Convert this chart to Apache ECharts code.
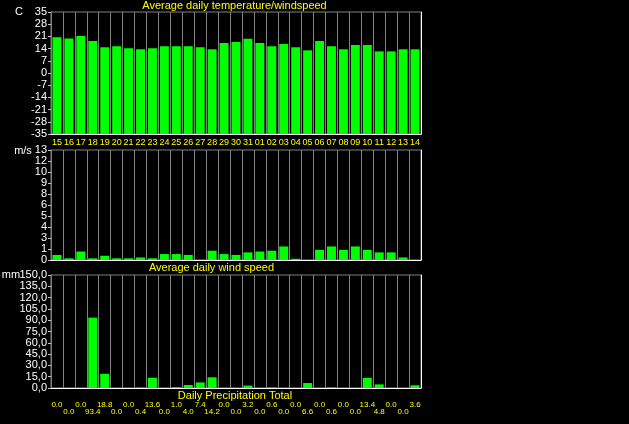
<!DOCTYPE html>
<html><head><meta charset="utf-8">
<script src="https://cdn.jsdelivr.net/npm/echarts@6/dist/echarts.min.js"></script>
<style>html,body{margin:0;padding:0;background:#000;}#c{width:629px;height:424px;}</style>
</head><body><div id="c"></div>
<script>
// ---- data ----
const days = ['15','16','17','18','19','20','21','22','23','24','25','26','27','28','29','30','31',
              '01','02','03','04','05','06','07','08','09','10','11','12','13','14'];
const temperature = [20.5,19.8,21.3,18.4,14.8,15.4,14.2,13.6,14.2,15.4,15.4,15.4,14.8,13.6,17.2,17.8,19.6,
                     17.2,15.4,16.6,14.8,13.0,18.4,15.4,13.6,16.0,16.0,12.4,12.4,13.6,13.6];
const windSpeed = [0.6,0.2,1.0,0.2,0.5,0.2,0.2,0.3,0.2,0.7,0.7,0.6,0,1.1,0.7,0.6,0.9,
                   1.0,1.1,1.6,0.15,0,1.2,1.6,1.2,1.6,1.2,0.9,0.9,0.3,0];
const precipitation = [0.0,0.0,0.0,93.4,18.8,0.0,0.0,0.4,13.6,0.0,1.0,4.0,7.4,14.2,0.0,0.0,3.2,
                       0.0,0.6,0.0,0.0,6.6,0.0,0.6,0.0,0.0,13.4,4.8,0.0,0.0,3.6];
const windTickLabels = ['0','1','3','4','5','6','8','9','10','12','13'];

// ---- style ----
const FONT = 'Liberation Sans, Arial, sans-serif';
const GREEN = '#00ff00';
const GRID_LINE = '#808080';
const YELLOW = '#ffff00';
const TEMP_MIN = -35, TEMP_MAX = 35;

const chart = echarts.init(document.getElementById('c'));

const gridBoxes = [
  {left: 51, right: 208, top: 12, height: 122},
  {left: 51, right: 208, top: 150, height: 110},
  {left: 51, right: 208, top: 275, height: 113}
];
const grid = gridBoxes.map(g => Object.assign({}, g, {
  show: true, borderColor: GRID_LINE, borderWidth: 1, backgroundColor: 'transparent',
  containLabel: false, outerBoundsMode: 'none'
}));

function xAxisFor(i, axisLabel) {
  return {
    type: 'category', gridIndex: i, data: days, boundaryGap: true,
    axisLine: {show: true, onZero: false, lineStyle: {color: '#ffffff', width: 1}},
    axisTick: {show: false},
    splitLine: {show: true, interval: 0, lineStyle: {color: GRID_LINE, width: 1}},
    axisLabel: axisLabel
  };
}
const yLeftCommon = {
  type: 'value',
  axisLine: {show: true, lineStyle: {color: GRID_LINE}},
  axisTick: {show: true, length: 3, inside: false, lineStyle: {color: '#c8c8c8'}},
  splitLine: {show: false},
  axisLabel: {color: '#ffffff', fontSize: 11, fontFamily: FONT, margin: 4}
};
function yLeft(i, min, max, interval, formatter) {
  const a = JSON.parse(JSON.stringify(yLeftCommon));
  a.gridIndex = i; a.min = min; a.max = max; a.interval = interval;
  a.axisLabel.formatter = formatter;
  return a;
}
function yRight(i, min, max) {
  return {
    type: 'value', gridIndex: i, position: 'right', min: min, max: max,
    axisLine: {show: true, lineStyle: {color: '#ffffff'}},
    axisTick: {show: false}, axisLabel: {show: false}, splitLine: {show: false}
  };
}

const option = {
  backgroundColor: '#000000',
  animation: false,
  grid: grid,
  xAxis: [
    xAxisFor(0, {show: true, interval: 0, color: YELLOW, fontSize: 9, lineHeight: 10, fontFamily: FONT, margin: 4}),
    xAxisFor(1, {show: false}),
    xAxisFor(2, {show: true, interval: 0, color: YELLOW, fontSize: 8, lineHeight: 7, fontFamily: FONT, margin: 13,
      formatter: (v, i) => (i % 2 ? '\n' : '') + precipitation[i].toFixed(1)})
  ],
  yAxis: [
    yLeft(0, TEMP_MIN, TEMP_MAX, 7, v => String(Math.round(v))),
    yLeft(1, 0, 13, 1.3, v => windTickLabels[Math.round(v / 1.3)]),
    yLeft(2, 0, 150, 15, v => v.toFixed(1).replace('.', ',')),
    yRight(0, TEMP_MIN, TEMP_MAX),
    yRight(1, 0, 13),
    yRight(2, 0, 150)
  ],
  series: [
    {
      type: 'custom', xAxisIndex: 0, yAxisIndex: 0,
      data: temperature.map((v, i) => [i, v]),
      encode: {x: 0, y: 1},
      renderItem: (params, api) => {
        const top = api.coord([api.value(0), api.value(1)]);
        const base = api.coord([api.value(0), TEMP_MIN]);
        const w = api.size([1, 0])[0] * 0.75;
        return {type: 'rect', shape: {x: top[0] - w / 2, y: top[1], width: w, height: base[1] - top[1]},
                style: {fill: GREEN}};
      }
    },
    {type: 'bar', xAxisIndex: 1, yAxisIndex: 1, data: windSpeed, barWidth: '75%', itemStyle: {color: GREEN}},
    {type: 'bar', xAxisIndex: 2, yAxisIndex: 2, data: precipitation, barWidth: '75%', itemStyle: {color: GREEN}}
  ],
  graphic: [
    {type: 'text', x: 234.5, y: 5.5, style: {text: 'Average daily temperature/windspeed', fill: YELLOW, font: '11px ' + FONT, textAlign: 'center', textVerticalAlign: 'middle'}},
    {type: 'text', x: 211.5, y: 268, style: {text: 'Average daily wind speed', fill: YELLOW, font: '11px ' + FONT, textAlign: 'center', textVerticalAlign: 'middle'}},
    {type: 'text', x: 235, y: 396, style: {text: 'Daily Precipitation Total', fill: YELLOW, font: '11px ' + FONT, textAlign: 'center', textVerticalAlign: 'middle'}},
    {type: 'text', x: 19, y: 11.5, style: {text: 'C', fill: '#ffffff', font: '11px ' + FONT, textAlign: 'center', textVerticalAlign: 'middle'}},
    {type: 'text', x: 23, y: 151, style: {text: 'm/s', fill: '#ffffff', font: '11px ' + FONT, textAlign: 'center', textVerticalAlign: 'middle'}},
    {type: 'text', x: 11, y: 275, style: {text: 'mm', fill: '#ffffff', font: '11px ' + FONT, textAlign: 'center', textVerticalAlign: 'middle'}}
  ]
};
chart.setOption(option);
</script></body></html>
